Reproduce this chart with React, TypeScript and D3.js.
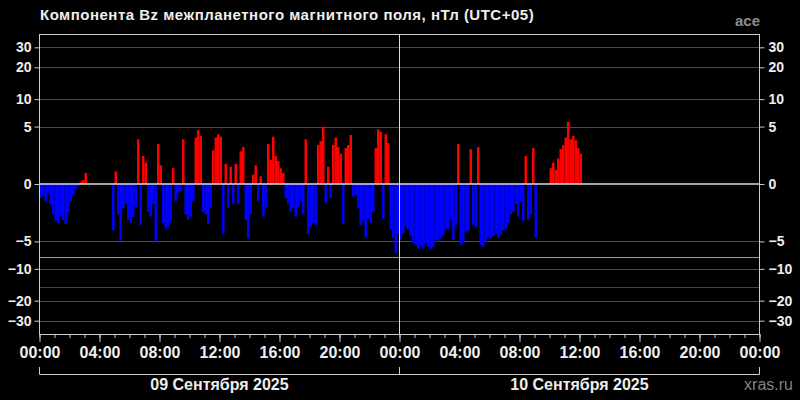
import React, { useEffect, useRef } from 'react';
import * as d3 from 'd3';

// Bz values, nT, one per 10 minutes (null = no data)
const day1Bz: (number | null)[] = [
  -0.8, -0.6, -1.0, -0.5, -1.2, -2.0, -2.6, -2.8, -2.2, -2.5, -2.9, -1.8,
  -1.0, -0.6, -0.3, -0.1, 0.1, 0.2, 0.6, null, null, null, null, null,
  null, null, null, null, null, -3.6, 0.7, -2.0, -4.9, -1.5, -1.2, -2.5,
  -2.8, -2.2, -1.4, 3.4, -3.0, 1.8, 1.3, -1.8, -2.2, -1.2, -5.0, 2.9,
  1.1, -2.8, -3.4, -3.2, -2.6, 0.9, -1.0, -0.5, -0.4, 3.4, -2.0, -2.5,
  -2.2, -1.0, 3.6, 4.5, 3.8, -1.8, -2.0, -2.9, -1.5, 2.3, 3.6, 4.0,
  3.7, -4.0, 1.2, -1.5, 1.0, -1.2, 1.2, -1.2, 2.2, 2.6, -2.5, -4.6,
  -2.0, 0.5, 1.1, -1.0, 0.4, -2.2, -1.5, 2.9, 1.5, 3.7, 1.8, 1.4,
  0.9, 0.6, -0.8, -1.2, -1.8, -1.5, -2.2, -1.4, -1.0, -2.0, 3.4, -4.0,
  -3.2, -2.8, -3.0, 2.8, 3.2, 5.0, -1.1, 1.0, -0.8, 2.8, 3.6, 2.6,
  2.0, -2.9, 2.5, 2.8, 3.9, -0.7, -0.6, -1.5, -3.0, -2.6, -4.5, -2.4,
  -2.8, -1.8, 2.5, 4.6, 4.3, -2.4, 4.0, 3.0, -3.5, -4.5, -6.8, -4.0,
];

const day2Bz: (number | null)[] = [
  -4.8, -4.0, -3.2, -3.5, -4.3, -5.3, -5.6, -6.1, -5.6, -6.1, -5.3, -5.8,
  -6.1, -5.8, -4.8, -5.0, -4.6, -4.2, -3.5, -3.5, -2.5, -4.8, -3.0, 2.9,
  -5.5, -5.2, -3.8, -3.6, 2.4, -3.0, -3.2, 2.6, -5.5, -5.8, -5.0, -4.5,
  -4.6, -4.3, -4.0, -4.5, -4.2, -3.6, -3.4, -2.8, -2.0, -1.8, -1.2, -2.2,
  -1.0, -2.6, 1.8, -2.5, -2.0, 2.5, -4.5, null, null, null, null, null,
  0.9, 1.3, 0.8, 1.6, 2.4, 2.8, 3.6, 5.7, 3.4, 3.8, 3.3, 2.5,
  2.0,
];

const yTicks = [30, 20, 10, 5, 0, -5, -10, -20, -30];
const thresholdValues = [-7.5, -15];
const thresholdColors = ['#e8891a', '#e60000'];
const dayLabels = ['09 Сентября 2025', '10 Сентября 2025'];

const HOUR = 3600 * 1000;
const STEP = 10 * 60 * 1000;
const start = Date.UTC(2025, 8, 9);

const App = () => {
  const ref = useRef<SVGSVGElement>(null);

  useEffect(() => {
    const svg = d3.select(ref.current);
    svg.selectAll('*').remove();

    const font = '"Liberation Sans", Arial, sans-serif';
    const left = 39.5, right = 759.5, top = 34, bottom = 334;

    const x = d3.scaleUtc()
      .domain([new Date(start), new Date(start + 48 * HOUR)])
      .range([left, right]);
    const y = d3.scaleSymlog().constant(2.7).domain([-39, 39]).range([bottom, top]);

    const points = [...day1Bz, ...day2Bz]
      .map((v, i) => ({ t: start + i * STEP, v }))
      .filter(d => d.v !== null) as { t: number, v: number }[];

    svg.append('rect').attr('width', 800).attr('height', 400).attr('fill', '#000');

    // grid
    svg.append('g')
      .selectAll('line')
      .data(yTicks.filter(d => d !== 0))
      .enter()
      .append('line')
      .attr('x1', left).attr('x2', right)
      .attr('y1', d => Math.round(y(d)) + 0.5).attr('y2', d => Math.round(y(d)) + 0.5)
      .style('stroke', '#4a4a4a');

    // bars
    const y0 = y(0);
    svg.append('g')
      .selectAll('rect')
      .data(points)
      .enter()
      .append('rect')
      .attr('x', d => x(new Date(d.t)))
      .attr('width', d => x(new Date(d.t + STEP)) - x(new Date(d.t)))
      .attr('y', d => Math.min(y(d.v), y0))
      .attr('height', d => Math.abs(y(d.v) - y0))
      .attr('fill', d => d.v >= 0 ? '#ff0000' : '#0000ff');

    // thresholds
    thresholdValues.forEach((v, i) => {
      svg.append('line')
        .attr('x1', left).attr('x2', right)
        .attr('y1', Math.round(y(v)) + 0.5).attr('y2', Math.round(y(v)) + 0.5)
        .style('stroke', thresholdColors[i])
        .style('stroke-width', 1.2);
    });

    // zero line and day separator
    svg.append('line')
      .attr('x1', left).attr('x2', right)
      .attr('y1', y0).attr('y2', y0)
      .style('stroke', '#dddddd').style('stroke-width', 1.6);
    svg.append('line')
      .attr('x1', x(new Date(start + 24 * HOUR))).attr('x2', x(new Date(start + 24 * HOUR)))
      .attr('y1', top).attr('y2', bottom)
      .style('stroke', '#dddddd');

    // frame
    svg.append('rect')
      .attr('x', left).attr('y', top + 0.5)
      .attr('width', right - left).attr('height', bottom - top)
      .attr('fill', 'none').style('stroke', '#cccccc');

    const styleAxis = (g: any, size: number) => {
      g.select('.domain').remove();
      g.selectAll('line').style('stroke', '#cccccc');
      g.selectAll('text')
        .attr('fill', '#eeeeee')
        .style('font-family', font)
        .style('font-weight', 'bold')
        .style('font-size', `${size}px`);
    };

    const yLeft = svg.append('g')
      .attr('transform', `translate(${left},0)`)
      .call(d3.axisLeft(y).tickValues(yTicks).tickSize(5).tickPadding(3).tickFormat(d3.format('d')));
    styleAxis(yLeft, 14);

    const yRight = svg.append('g')
      .attr('transform', `translate(${right},0)`)
      .call(d3.axisRight(y).tickValues(yTicks).tickSize(5).tickPadding(4).tickFormat(d3.format('d')));
    styleAxis(yRight, 14);

    const xMinor = svg.append('g')
      .attr('transform', `translate(0,${bottom})`)
      .call(d3.axisBottom(x).ticks(d3.utcHour.every(1)).tickSize(4).tickFormat(() => ''));
    styleAxis(xMinor, 16);

    const xMajor = svg.append('g')
      .attr('transform', `translate(0,${bottom})`)
      .call(d3.axisBottom(x).ticks(d3.utcHour.every(4)).tickSize(8).tickPadding(5)
        .tickFormat(d => d3.utcFormat('%H:%M')(d as Date)));
    styleAxis(xMajor, 16);

    // day brackets
    const days = svg.append('g');
    dayLabels.forEach((label, i) => {
      const a = x(new Date(start + i * 24 * HOUR));
      const b = x(new Date(start + (i + 1) * 24 * HOUR));
      days.append('path')
        .attr('d', `M${a},367V374.5H${b}V367`)
        .attr('fill', 'none').style('stroke', '#cccccc');
      days.append('text')
        .attr('x', (a + b) / 2).attr('y', 390)
        .attr('text-anchor', 'middle')
        .attr('fill', '#eeeeee')
        .style('font-family', font).style('font-weight', 'bold').style('font-size', '16px')
        .text(label);
    });

    svg.append('text')
      .attr('x', 40).attr('y', 20)
      .attr('fill', '#eeeeee')
      .style('font-family', font).style('font-weight', 'bold').style('font-size', '15px')
      .style('letter-spacing', '0.5px')
      .text('Компонента Bz межпланетного магнитного поля, нТл (UTC+05)');

    svg.append('text')
      .attr('x', 760).attr('y', 26)
      .attr('text-anchor', 'end')
      .attr('fill', '#8c8c8c')
      .style('font-family', font).style('font-weight', 'bold').style('font-size', '15px')
      .text('ace');

    svg.append('text')
      .attr('x', 793).attr('y', 390)
      .attr('text-anchor', 'end')
      .attr('fill', '#808080')
      .style('font-family', font).style('font-size', '16px')
      .text('xras.ru');
  }, []);

  return <svg ref={ref} width={800} height={400}
    style={{ position: 'absolute', left: 0, top: 0, display: 'block' }} />;
};

export default App;
